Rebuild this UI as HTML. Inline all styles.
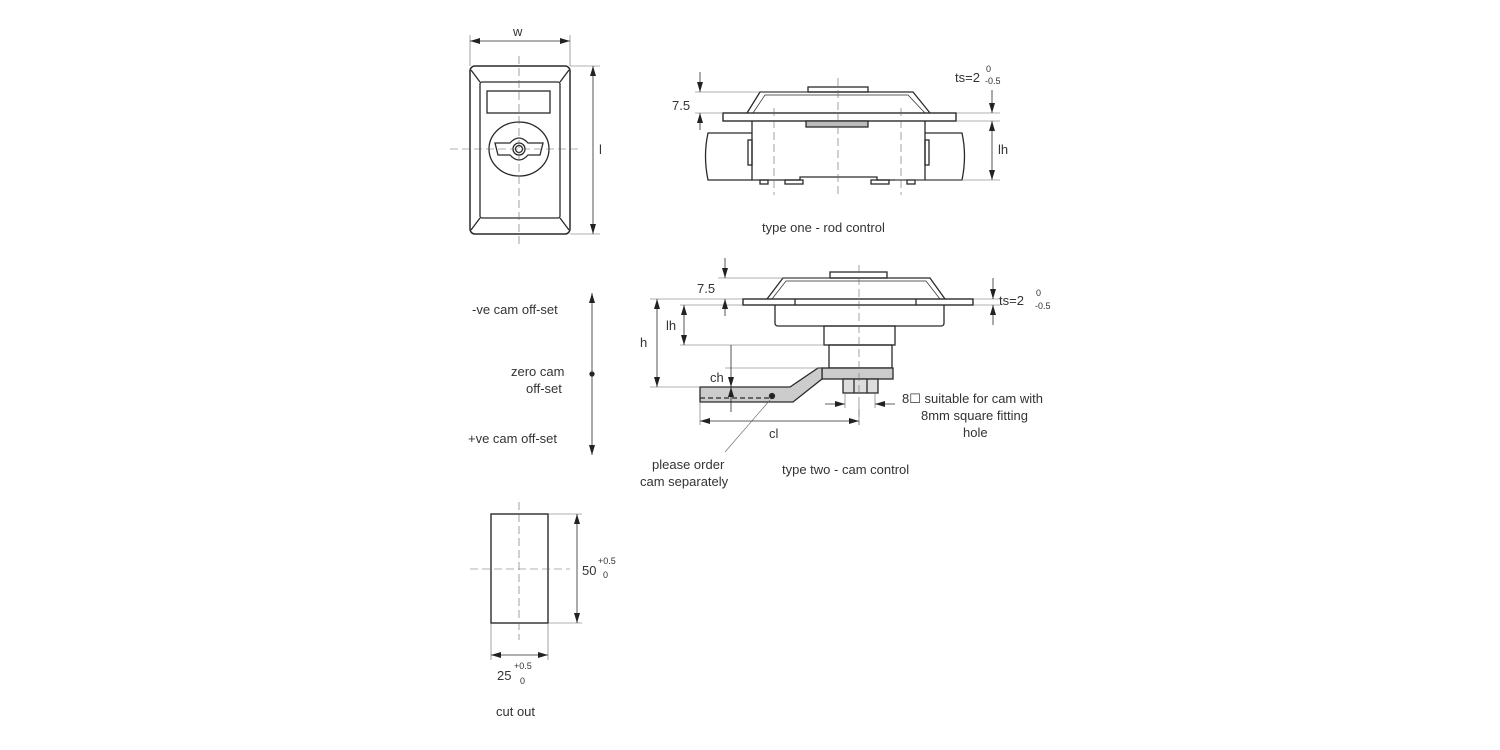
<!DOCTYPE html>
<html><head><meta charset="utf-8"><style>
html,body{margin:0;padding:0;background:#fff;}
svg{display:block;}
text{font-family:"Liberation Sans",sans-serif;fill:#333;font-size:13px;}
.s{font-size:9px;}
</style></head><body>
<svg width="1500" height="750" viewBox="0 0 1500 750" xmlns="http://www.w3.org/2000/svg">
<defs>
<marker id="a" viewBox="0 0 10 6" refX="10" refY="3" markerWidth="10" markerHeight="6" orient="auto-start-reverse" markerUnits="userSpaceOnUse"><path d="M0,0L10,3L0,6z" fill="#222"/></marker>
</defs>
<g fill="none" stroke="#2a2a2a" stroke-width="1.3">
<!-- front view -->
<rect x="470" y="66" width="100" height="168" rx="5" stroke-width="1.5"/>
<rect x="480" y="82" width="80" height="136" rx="2"/>
<line x1="471" y1="70" x2="480" y2="82"/><line x1="569" y1="70" x2="560" y2="82"/>
<line x1="471" y1="230" x2="480" y2="218"/><line x1="569" y1="230" x2="560" y2="218"/>
<rect x="487" y="91" width="63" height="22"/>
<ellipse cx="519" cy="149" rx="30" ry="27"/>
<path d="M495,143 L510,143 Q519,133 528,143 L543,143 L540,155 L528,155 Q519,165 510,155 L498,155 Z"/>
<circle cx="519" cy="149" r="6"/><circle cx="519" cy="149" r="3.5"/>
<g stroke-dasharray="8,4" stroke-width="0.6" stroke="#666"><line x1="519" y1="56" x2="519" y2="244"/><line x1="450" y1="149" x2="580" y2="149"/></g>
<g stroke-width="0.6" stroke="#666"><line x1="470" y1="35" x2="470" y2="66"/><line x1="570" y1="35" x2="570" y2="66"/><line x1="570" y1="66" x2="600" y2="66"/><line x1="570" y1="234" x2="600" y2="234"/></g>
<line x1="470" y1="41" x2="570" y2="41" stroke-width="0.8" marker-start="url(#a)" marker-end="url(#a)"/>
<line x1="593" y1="66" x2="593" y2="234" stroke-width="0.8" marker-start="url(#a)" marker-end="url(#a)"/>

<!-- type one -->
<rect x="723" y="113" width="233" height="8" stroke-width="1.4"/>
<path d="M747,113 L760,92 L913,92 L930,113" />
<path d="M753,113 L765,95 L908,95 L925,113" stroke-width="0.7"/>
<rect x="808" y="87" width="60" height="5"/>
<rect x="806" y="121" width="62" height="6" fill="#bbb"/>
<path d="M752,121 L752,180 L800,180 L800,177 L877,177 L877,180 L925,180 L925,121"/>
<rect x="760" y="180" width="8" height="4"/><rect x="785" y="180" width="18" height="4"/><rect x="871" y="180" width="18" height="4"/><rect x="907" y="180" width="8" height="4"/>
<path d="M752,133 L708,133 Q703,156 708,180 L752,180"/>
<path d="M925,133 L962,133 Q967,156 962,180 L925,180"/>
<rect x="748" y="140" width="4" height="25"/><rect x="925" y="140" width="4" height="25"/>
<g stroke-dasharray="8,4" stroke-width="0.6" stroke="#666"><line x1="838" y1="78" x2="838" y2="195"/><line x1="774" y1="108" x2="774" y2="195"/><line x1="901" y1="108" x2="901" y2="195"/></g>
<g stroke-width="0.6" stroke="#666"><line x1="695" y1="92" x2="808" y2="92"/><line x1="695" y1="113" x2="723" y2="113"/><line x1="956" y1="113" x2="1000" y2="113"/><line x1="956" y1="121" x2="1000" y2="121"/><line x1="895" y1="180" x2="1000" y2="180"/></g>
<line x1="700" y1="72" x2="700" y2="92" stroke-width="0.8" marker-end="url(#a)"/>
<line x1="700" y1="130" x2="700" y2="113" stroke-width="0.8" marker-end="url(#a)"/>
<line x1="992" y1="90" x2="992" y2="113" stroke-width="0.8" marker-end="url(#a)"/>
<line x1="992" y1="121" x2="992" y2="180" stroke-width="0.8" marker-start="url(#a)" marker-end="url(#a)"/>

<!-- type two -->
<rect x="743" y="299" width="230" height="6" stroke-width="1.4"/>
<path d="M767,299 L783,278 L930,278 L945,299"/>
<path d="M772,299 L786,281 L926,281 L940,299" stroke-width="0.7"/>
<line x1="795" y1="299" x2="795" y2="305"/><line x1="916" y1="299" x2="916" y2="305"/>
<rect x="830" y="272" width="57" height="6"/>
<path d="M775,305 L775,323 Q775,326 778,326 L941,326 Q944,326 944,323 L944,305"/>
<rect x="824" y="326" width="71" height="19"/>
<rect x="829" y="345" width="63" height="23"/>
<rect x="822" y="368" width="71" height="11" fill="#ccc"/>
<rect x="843" y="379" width="35" height="14" fill="#ddd"/>
<line x1="854" y1="379" x2="854" y2="393"/><line x1="867" y1="379" x2="867" y2="393"/>
<path d="M700,387 L790,387 L818,368 L822,368 L822,379 L793,402 L700,402 Z" fill="#ccc"/>
<line x1="700" y1="398" x2="770" y2="398" stroke-dasharray="5,3"/>
<circle cx="772" cy="396" r="2.5" fill="#222"/>
<g stroke-dasharray="8,4" stroke-width="0.6" stroke="#666"><line x1="859" y1="265" x2="859" y2="425"/></g>
<g stroke-width="0.6" stroke="#666"><line x1="718" y1="278" x2="830" y2="278"/><line x1="650" y1="299" x2="743" y2="299"/><line x1="680" y1="305" x2="743" y2="305"/><line x1="973" y1="299" x2="1000" y2="299"/><line x1="973" y1="305" x2="1000" y2="305"/><line x1="680" y1="345" x2="824" y2="345"/><line x1="725" y1="368" x2="822" y2="368"/><line x1="650" y1="387" x2="700" y2="387"/><line x1="700" y1="402" x2="700" y2="425"/><line x1="859" y1="405" x2="859" y2="425"/><line x1="845" y1="393" x2="845" y2="408"/><line x1="875" y1="393" x2="875" y2="408"/><line x1="770" y1="400" x2="725" y2="452"/></g>
<line x1="725" y1="258" x2="725" y2="278" stroke-width="0.8" marker-end="url(#a)"/>
<line x1="725" y1="316" x2="725" y2="299" stroke-width="0.8" marker-end="url(#a)"/>
<line x1="657" y1="299" x2="657" y2="387" stroke-width="0.8" marker-start="url(#a)" marker-end="url(#a)"/>
<line x1="684" y1="305" x2="684" y2="345" stroke-width="0.8" marker-start="url(#a)" marker-end="url(#a)"/>
<line x1="731" y1="345" x2="731" y2="387" stroke-width="0.8" marker-end="url(#a)"/>
<line x1="731" y1="412" x2="731" y2="387" stroke-width="0.8" marker-end="url(#a)"/>
<line x1="993" y1="278" x2="993" y2="299" stroke-width="0.8" marker-end="url(#a)"/>
<line x1="993" y1="325" x2="993" y2="305" stroke-width="0.8" marker-end="url(#a)"/>
<line x1="700" y1="421" x2="859" y2="421" stroke-width="0.8" marker-start="url(#a)" marker-end="url(#a)"/>
<line x1="825" y1="404" x2="845" y2="404" stroke-width="0.8" marker-end="url(#a)"/>
<line x1="895" y1="404" x2="875" y2="404" stroke-width="0.8" marker-end="url(#a)"/>

<!-- offset arrow -->
<line x1="592" y1="293" x2="592" y2="455" stroke-width="0.8" marker-start="url(#a)" marker-end="url(#a)"/>
<circle cx="592" cy="374" r="2" fill="#222"/>

<!-- cut out -->
<rect x="491" y="514" width="57" height="109" stroke-width="1.4"/>
<g stroke-dasharray="8,4" stroke-width="0.6" stroke="#666"><line x1="519" y1="502" x2="519" y2="640"/><line x1="470" y1="569" x2="570" y2="569"/></g>
<g stroke-width="0.6" stroke="#666"><line x1="548" y1="514" x2="582" y2="514"/><line x1="548" y1="623" x2="582" y2="623"/><line x1="491" y1="623" x2="491" y2="660"/><line x1="548" y1="623" x2="548" y2="660"/></g>
<line x1="577" y1="514" x2="577" y2="623" stroke-width="0.8" marker-start="url(#a)" marker-end="url(#a)"/>
<line x1="491" y1="655" x2="548" y2="655" stroke-width="0.8" marker-start="url(#a)" marker-end="url(#a)"/>
</g>

<text x="513" y="36">w</text>
<text x="599" y="154">l</text>
<text x="672" y="110">7.5</text>
<text x="955" y="82">ts=2</text><text class="s" x="986" y="72">0</text><text class="s" x="985" y="84">-0.5</text>
<text x="998" y="154">lh</text>
<text x="762" y="232">type one - rod control</text>
<text x="697" y="293">7.5</text>
<text x="999" y="305">ts=2</text><text class="s" x="1036" y="296">0</text><text class="s" x="1035" y="309">-0.5</text>
<text x="666" y="330">lh</text>
<text x="640" y="347">h</text>
<text x="710" y="382">ch</text>
<text x="769" y="438">cl</text>
<text x="902" y="403">8☐ suitable for cam with</text>
<text x="921" y="420">8mm square fitting</text>
<text x="963" y="437">hole</text>
<text x="652" y="469">please order</text>
<text x="640" y="486">cam separately</text>
<text x="782" y="474">type two - cam control</text>
<text x="472" y="314">-ve cam off-set</text>
<text x="511" y="376">zero cam</text>
<text x="526" y="393">off-set</text>
<text x="468" y="443">+ve cam off-set</text>
<text x="582" y="575">50</text><text class="s" x="598" y="564">+0.5</text><text class="s" x="603" y="578">0</text>
<text x="497" y="680">25</text><text class="s" x="514" y="669">+0.5</text><text class="s" x="520" y="684">0</text>
<text x="496" y="716">cut out</text>
</svg>
</body></html>
